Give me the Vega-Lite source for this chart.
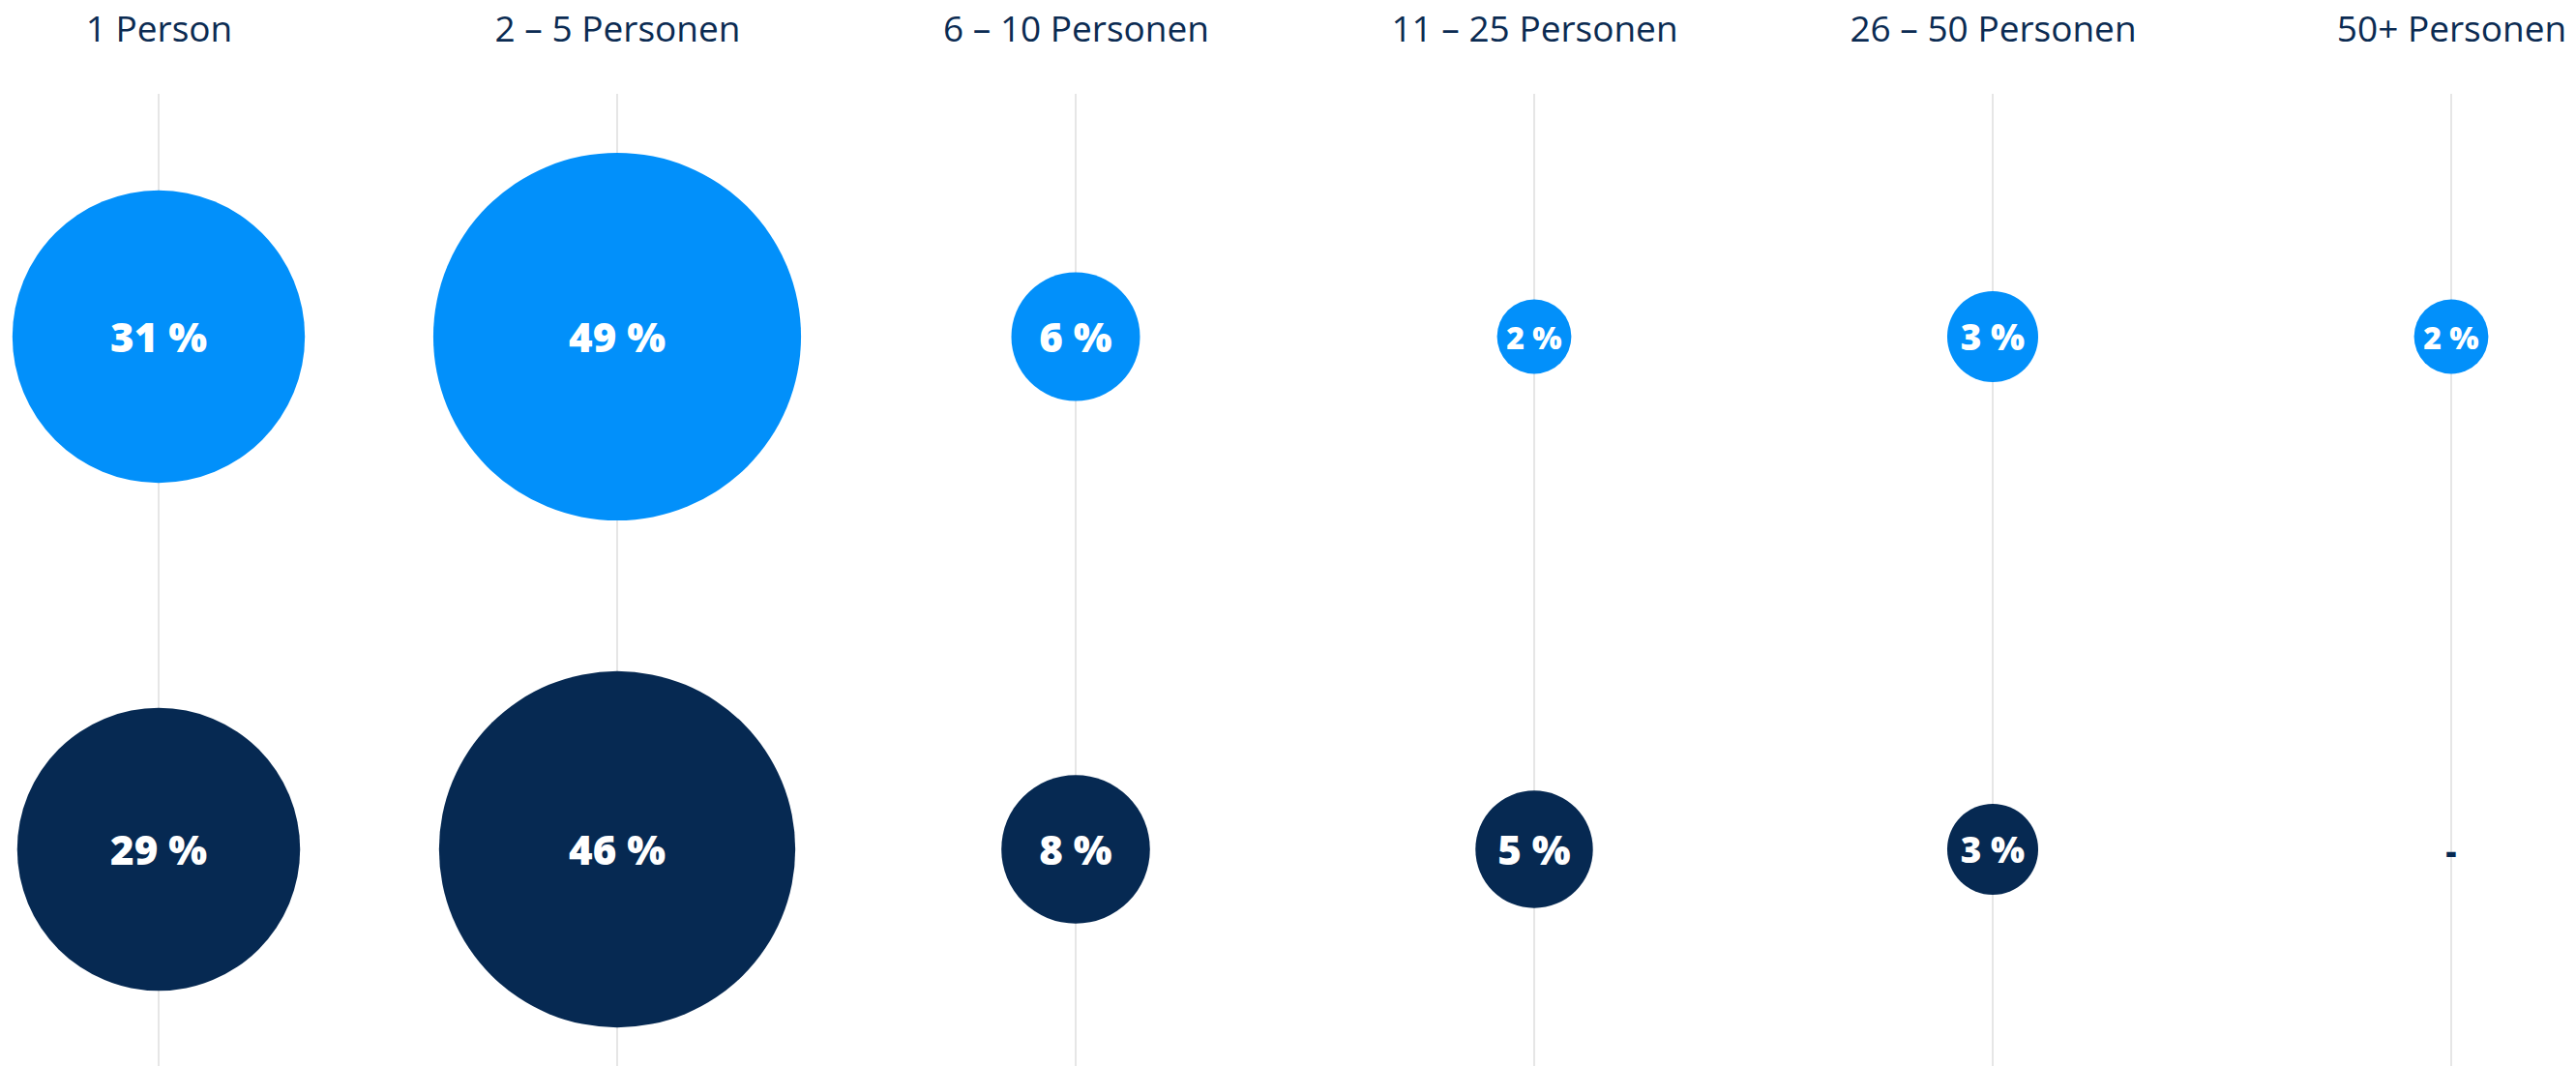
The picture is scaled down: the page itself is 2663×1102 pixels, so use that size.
{
  "$schema": "https://vega.github.io/schema/vega-lite/v6.json",
  "width": 2663,
  "height": 1005,
  "autosize": {"type": "none"},
  "padding": {"left": 0, "right": 0, "top": 97, "bottom": 0},
  "background": "white",
  "config": {"view": {"stroke": null}, "font": "Open Sans"},
  "data": {
    "values": [
      {"group": "1 Person", "row": "A", "value": 31, "label": "31 %"},
      {"group": "2 – 5 Personen", "row": "A", "value": 49, "label": "49 %"},
      {"group": "6 – 10 Personen", "row": "A", "value": 6, "label": "6 %"},
      {"group": "11 – 25 Personen", "row": "A", "value": 2, "label": "2 %"},
      {"group": "26 – 50 Personen", "row": "A", "value": 3, "label": "3 %"},
      {"group": "50+ Personen", "row": "A", "value": 2, "label": "2 %"},
      {"group": "1 Person", "row": "B", "value": 29, "label": "29 %"},
      {"group": "2 – 5 Personen", "row": "B", "value": 46, "label": "46 %"},
      {"group": "6 – 10 Personen", "row": "B", "value": 8, "label": "8 %"},
      {"group": "11 – 25 Personen", "row": "B", "value": 5, "label": "5 %"},
      {"group": "26 – 50 Personen", "row": "B", "value": 3, "label": "3 %"},
      {"group": "50+ Personen", "row": "B", "value": null, "label": "-"}
    ]
  },
  "encoding": {
    "x": {
      "field": "group",
      "type": "nominal",
      "sort": null,
      "scale": {"type": "point", "range": [164, 2534], "padding": 0},
      "axis": {
        "orient": "top",
        "title": null,
        "domain": false,
        "ticks": false,
        "tickSize": 0,
        "grid": false,
        "labelFont": "Open Sans",
        "labelFontSize": 37,
        "labelColor": "#0b2b52",
        "labelBaseline": "middle",
        "labelPadding": 66,
        "labelAngle": 0,
        "labelLimit": 0
      }
    },
    "y": {
      "field": "row",
      "type": "nominal",
      "scale": {"type": "point", "range": [251, 781], "padding": 0},
      "axis": null
    }
  },
  "layer": [
    {
      "mark": {"type": "rule", "color": "#e6e6e6", "strokeWidth": 2},
      "encoding": {
        "y": null
      }
    },
    {
      "mark": {"type": "circle", "opacity": 1},
      "encoding": {
        "size": {
          "field": "value",
          "type": "quantitative",
          "scale": {"type": "linear", "domain": [0, 49], "range": [0, 144500], "nice": false},
          "legend": null
        },
        "color": {
          "field": "row",
          "type": "nominal",
          "scale": {"domain": ["A", "B"], "range": ["#0290fa", "#062952"]},
          "legend": null
        }
      }
    },
    {
      "transform": [{"filter": "datum.value != null"}],
      "mark": {"type": "text", "font": "Open Sans", "fontWeight": 800, "baseline": "middle", "align": "center", "dy": 3, "color": "white"},
      "encoding": {
        "text": {"field": "label"},
        "size": {
          "field": "value",
          "type": "quantitative",
          "scale": {"type": "linear", "domain": [2, 4], "range": [32, 42], "clamp": true, "nice": false, "zero": false},
          "legend": null
        }
      }
    },
    {
      "transform": [{"filter": "datum.value == null"}],
      "mark": {"type": "text", "font": "Open Sans", "fontWeight": 800, "baseline": "middle", "align": "center", "dy": 4, "fontSize": 34, "color": "#062952"},
      "encoding": {
        "text": {"field": "label"}
      }
    }
  ],
  "resolve": {"scale": {"size": "independent"}}
}
